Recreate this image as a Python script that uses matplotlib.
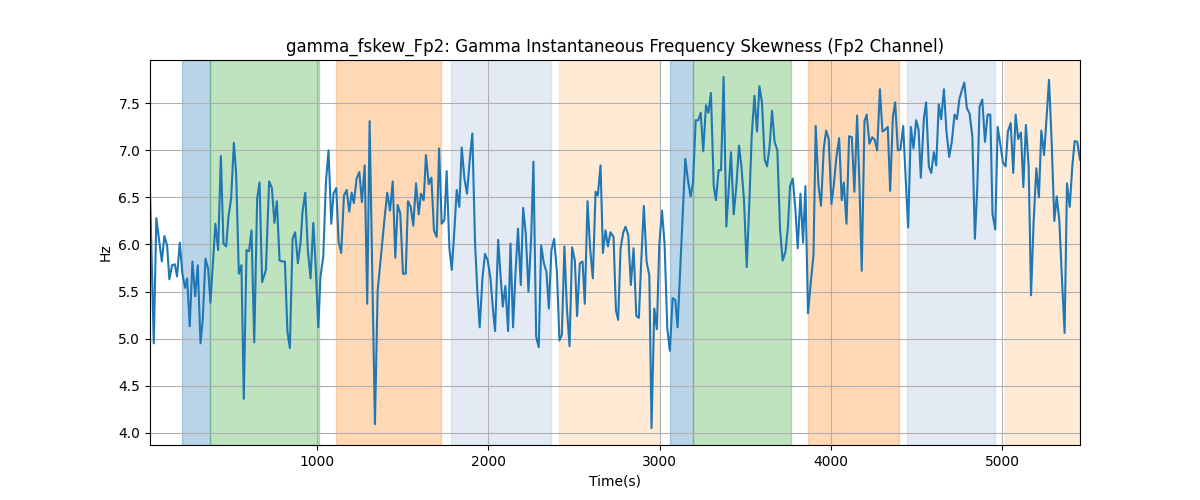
import numpy as np
import matplotlib
matplotlib.use('Agg')
import matplotlib.pyplot as plt

# time stamps (s) and gamma frequency skewness
times = [23, 45, 60, 76, 92, 107, 123, 136, 152, 168, 181, 197, 212, 228, 240, 255, 271, 287, 302, 318,
         331, 347, 363, 376, 405, 421, 437, 452, 468, 481, 497, 513, 526, 542, 557, 571, 587, 602, 616, 632,
         649, 663, 678, 700, 719, 735, 750, 764, 780, 795, 811, 826, 840, 856, 871, 887, 903, 914, 930, 945,
         961, 977, 992, 1006, 1019, 1035, 1051, 1066, 1082, 1095, 1111, 1125, 1140, 1156, 1172, 1187, 1201, 1214, 1230, 1246,
         1261, 1277, 1292, 1306, 1337, 1353, 1378, 1394, 1409, 1425, 1441, 1456, 1470, 1485, 1501, 1517, 1530, 1546, 1561, 1577,
         1593, 1606, 1622, 1635, 1651, 1667, 1682, 1698, 1712, 1727, 1743, 1756, 1772, 1786, 1801, 1815, 1830, 1844, 1860, 1875,
         1891, 1906, 1922, 1936, 1949, 1965, 1980, 1996, 2012, 2025, 2039, 2057, 2070, 2084, 2099, 2115, 2129, 2144, 2158, 2173,
         2189, 2203, 2218, 2234, 2250, 2263, 2279, 2294, 2308, 2324, 2339, 2353, 2368, 2384, 2400, 2415, 2429, 2444, 2458, 2474,
         2489, 2505, 2518, 2534, 2550, 2563, 2579, 2594, 2610, 2626, 2639, 2655, 2669, 2684, 2698, 2713, 2731, 2745, 2758, 2772,
         2788, 2801, 2817, 2832, 2848, 2864, 2879, 2893, 2908, 2924, 2940, 2953, 2969, 2984, 2998, 3014, 3029, 3045, 3060, 3076,
         3092, 3105, 3121, 3134, 3150, 3166, 3181, 3195, 3211, 3226, 3240, 3255, 3271, 3285, 3300, 3316, 3329, 3345, 3359, 3374,
         3390, 3417, 3433, 3448, 3464, 3478, 3493, 3509, 3522, 3538, 3554, 3569, 3583, 3598, 3614, 3628, 3643, 3657, 3672, 3688,
         3704, 3719, 3735, 3750, 3762, 3778, 3793, 3807, 3823, 3838, 3852, 3867, 3883, 3899, 3912, 3928, 3943, 3959, 3973, 3988,
         4004, 4017, 4033, 4049, 4064, 4076, 4092, 4107, 4123, 4138, 4154, 4168, 4181, 4197, 4210, 4226, 4242, 4257, 4271, 4287,
         4302, 4318, 4333, 4347, 4363, 4376, 4392, 4407, 4423, 4439, 4452, 4468, 4483, 4499, 4513, 4526, 4544, 4557, 4573, 4587,
         4602, 4616, 4631, 4645, 4661, 4676, 4692, 4707, 4723, 4737, 4752, 4766, 4780, 4795, 4811, 4827, 4842, 4856, 4869, 4885,
         4901, 4916, 4932, 4945, 4961, 4975, 4990, 5006, 5021, 5035, 5051, 5066, 5080, 5095, 5111, 5125, 5140, 5156, 5170, 5185,
         5201, 5216, 5230, 5246, 5259, 5275, 5290, 5306, 5320, 5335, 5351, 5366, 5380, 5396, 5411, 5425, 5440, 5456]
fskew = [6.56, 4.95, 6.28, 6.05, 5.82, 6.09, 5.99, 5.63, 5.78, 5.79, 5.66, 6.02, 5.69, 5.54, 5.64, 5.13, 5.82, 5.45, 5.78, 4.95,
         5.20, 5.85, 5.74, 5.38, 6.22, 5.94, 6.94, 6.01, 5.98, 6.29, 6.49, 7.08, 6.76, 5.69, 5.78, 4.36, 5.94, 5.93, 6.15, 4.96,
         6.49, 6.66, 5.60, 5.73, 6.67, 6.60, 6.23, 6.46, 5.83, 5.82, 5.82, 5.07, 4.90, 6.06, 6.13, 5.80, 6.03, 6.35, 6.55, 5.94,
         5.64, 6.23, 5.73, 5.12, 5.66, 5.87, 6.67, 7.00, 6.22, 6.54, 6.60, 6.03, 5.91, 6.52, 6.58, 6.35, 6.55, 6.44, 6.70, 6.77,
         6.45, 6.84, 5.37, 7.31, 4.09, 5.51, 5.99, 6.29, 6.55, 6.36, 6.67, 5.86, 6.42, 6.33, 5.69, 5.69, 6.46, 6.40, 6.20, 6.65,
         6.32, 6.54, 6.47, 6.95, 6.64, 6.71, 6.15, 6.08, 7.02, 6.22, 6.26, 6.78, 5.96, 5.73, 6.15, 6.58, 6.40, 7.03, 6.70, 6.54,
         6.90, 7.18, 6.01, 5.48, 5.12, 5.64, 5.90, 5.83, 5.64, 5.34, 5.08, 6.05, 5.69, 5.34, 5.56, 5.08, 6.01, 5.12, 5.69, 6.17,
         5.57, 6.39, 6.12, 5.50, 6.08, 6.88, 5.02, 4.91, 5.99, 5.80, 5.71, 5.32, 5.94, 6.06, 5.71, 4.98, 5.04, 5.98, 5.34, 4.92,
         5.97, 5.83, 5.24, 5.80, 5.82, 5.37, 6.46, 5.96, 5.64, 6.56, 6.52, 6.84, 5.91, 6.15, 5.98, 6.13, 6.08, 5.30, 5.20, 5.96,
         6.13, 6.19, 6.10, 5.57, 5.96, 5.24, 5.22, 5.83, 6.41, 5.82, 5.67, 4.05, 5.32, 5.10, 5.99, 6.36, 6.01, 5.11, 4.87, 5.43,
         5.41, 5.12, 5.76, 6.29, 6.91, 6.68, 6.51, 6.65, 7.32, 7.32, 7.40, 6.99, 7.48, 7.40, 7.61, 6.63, 6.47, 6.79, 6.79, 7.78,
         6.19, 6.98, 6.32, 6.61, 7.05, 6.83, 6.47, 5.76, 6.33, 7.15, 7.58, 7.20, 7.68, 7.51, 6.90, 6.83, 7.05, 7.42, 7.09, 7.00,
         6.15, 5.83, 5.92, 6.19, 6.62, 6.70, 6.38, 5.96, 6.54, 6.02, 6.62, 5.27, 5.59, 5.89, 7.26, 6.63, 6.41, 7.02, 7.21, 7.12,
         6.43, 6.62, 6.93, 7.13, 6.47, 6.66, 6.22, 7.15, 7.14, 6.56, 7.37, 6.61, 5.72, 7.31, 7.38, 7.07, 7.14, 7.11, 7.00, 7.65,
         7.20, 7.22, 7.25, 6.57, 7.36, 7.51, 7.00, 7.01, 7.26, 6.65, 6.18, 7.25, 7.02, 7.32, 7.22, 6.71, 7.34, 7.51, 6.83, 6.76,
         6.98, 6.84, 7.49, 7.33, 7.65, 7.20, 6.93, 7.09, 7.38, 7.33, 7.55, 7.64, 7.72, 7.45, 7.39, 7.15, 6.06, 6.61, 7.46, 7.54,
         7.09, 7.38, 7.38, 6.32, 6.16, 7.25, 7.07, 6.87, 6.83, 7.20, 7.29, 6.76, 7.38, 7.12, 7.19, 6.61, 7.27, 6.83, 5.46, 6.24,
         6.81, 6.50, 7.21, 6.95, 7.30, 7.75, 7.11, 6.25, 6.51, 6.26, 5.62, 5.06, 6.65, 6.40, 6.83, 7.10, 7.09, 6.90]

# shaded segments: start, end, colour, alpha
span_start = [210, 374, 1111, 1784, 2415, 3058, 3193, 3865, 4444, 5018]
span_end = [374, 1012, 1725, 2368, 3000, 3193, 3766, 4398, 4959, 5456]
span_color = ['#1f77b4', '#2ca02c', '#ff7f0e', '#b0c4de', '#ffbb78',
              '#1f77b4', '#2ca02c', '#ff7f0e', '#b0c4de', '#ffbb78']
span_alpha = [0.3, 0.3, 0.3, 0.35, 0.3, 0.3, 0.3, 0.3, 0.35, 0.3]

t = np.array(times)
v = np.array(fskew)

fig, ax = plt.subplots(figsize=(12, 5))
for s, e, c, a in zip(span_start, span_end, span_color, span_alpha):
    ax.axvspan(s, e, color=c, alpha=a)
ax.plot(t, v, color='#1f77b4', linewidth=1.5)
ax.set_xlim(t[0], t[-1])
ax.set_ylim(3.87, 7.96)
ax.grid(True)
ax.set_xlabel('Time(s)')
ax.set_ylabel('Hz')
ax.set_title('gamma_fskew_Fp2: Gamma Instantaneous Frequency Skewness (Fp2 Channel)')
plt.savefig('out.png', dpi=100)
